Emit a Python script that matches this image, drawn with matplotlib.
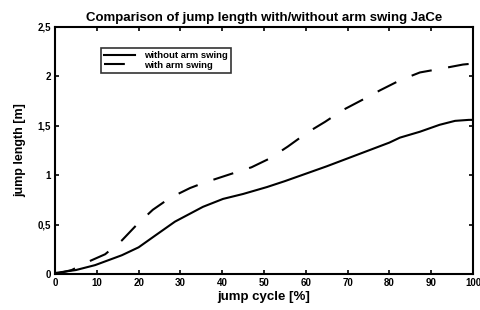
import matplotlib
matplotlib.use("Agg")
import matplotlib.pyplot as plt
from matplotlib.ticker import FixedLocator, FixedFormatter

plt.rcParams['font.family'] = ['Liberation Sans', 'DejaVu Sans']

x_without = [0, 5, 9.6, 16, 20, 24, 28.7, 35.4, 40.2, 45, 50.7, 55, 61, 65, 70, 75, 80, 82.5, 87.3, 92, 95.7, 99, 100]
y_without = [0.01, 0.04, 0.09, 0.19, 0.27, 0.39, 0.53, 0.68, 0.76, 0.81, 0.88, 0.94, 1.03, 1.09, 1.17, 1.25, 1.33, 1.38, 1.44, 1.51, 1.55, 1.56, 1.56]

x_with = [0, 4, 7.2, 12, 16, 19.6, 23.4, 27.5, 32.3, 35.4, 41.9, 47, 51.4, 55.7, 60.3, 64.6, 68.9, 73.4, 77.8, 82.5, 87.3, 92.6, 97.6, 100]
y_with = [0.0, 0.04, 0.11, 0.20, 0.34, 0.50, 0.65, 0.77, 0.87, 0.92, 1.01, 1.08, 1.17, 1.29, 1.43, 1.54, 1.66, 1.76, 1.86, 1.96, 2.04, 2.08, 2.12, 2.13]

xticks = [0, 10, 20, 30, 40, 50, 60, 70, 80, 90, 100]
yticks = [0, 0.5, 1, 1.5, 2, 2.5]
yticklabels = ['0', '0,5', '1', '1,5', '2', '2,5']

fig = plt.figure(figsize=(4.8, 3.1), dpi=100)
ax = fig.add_axes([55/480, 36/310, 418/480, 247/310])

ax.plot(x_without, y_without, color='black', lw=1.5, label='without arm swing')
ax.plot(x_with, y_with, color='black', lw=1.5, dashes=(10, 8), label='with arm swing')

ax.set_xlim(0, 100)
ax.set_ylim(0, 2.5)
ax.xaxis.set_major_locator(FixedLocator(xticks))
ax.yaxis.set_major_locator(FixedLocator(yticks))
ax.yaxis.set_major_formatter(FixedFormatter(yticklabels))
ax.tick_params(direction='in', top=True, right=True, length=3, width=1.2,
               labelsize=7, pad=3)
for lab in ax.get_xticklabels() + ax.get_yticklabels():
    lab.set_fontweight('bold')
for s in ax.spines.values():
    s.set_linewidth(1.5)

ax.set_title('Comparison of jump length with/without arm swing JaCe', fontsize=9.5,
             fontweight='bold', pad=4)
ax.set_xlabel('jump cycle [%]', fontsize=9.5, fontweight='bold', labelpad=2)
ax.set_ylabel('jump length [m]', fontsize=9, fontweight='bold', labelpad=8)

leg = ax.legend(loc='upper left', bbox_to_anchor=(46/418, 1 - 21/247),
                prop={'size': 6.8, 'weight': 'bold'}, frameon=True, fancybox=False,
                edgecolor='black', handlelength=3.3, handletextpad=1.0,
                borderpad=0.3, labelspacing=0.1, borderaxespad=0)
leg.get_frame().set_linewidth(1.2)

fig.savefig('out.png', dpi=100)
